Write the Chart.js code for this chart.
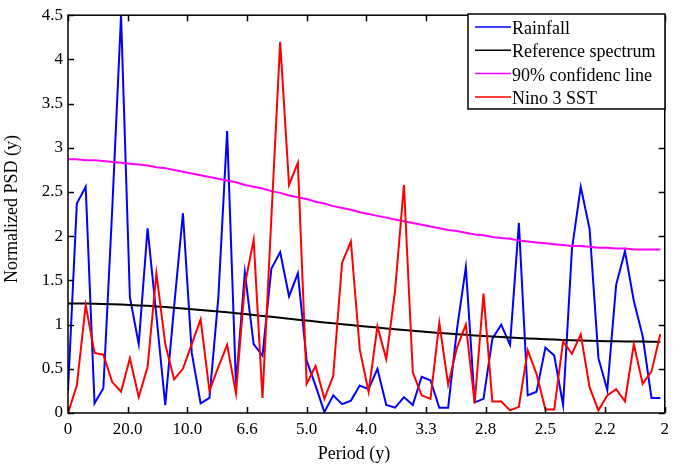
<!DOCTYPE html>
<html>
<head>
<meta charset="utf-8">
<script src="https://cdn.jsdelivr.net/npm/chart.js@4.4.1/dist/chart.umd.min.js"></script>
<style>
  html, body { margin: 0; padding: 0; background: #fff; }
  #wrap { width: 675px; height: 466px; position: relative; }
</style>
</head>
<body>
<div id="wrap"><canvas id="psdChart"></canvas></div>
<script>
// spectra sampled at f = k/135 cycles per year, k = 0..67
const periodLabels = ['0', '20.0', '10.0', '6.6', '5.0', '4.0', '3.3', '2.8', '2.5', '2.2', '2'];
const seriesNames = ['Rainfall', 'Reference spectrum', '90% confidenc line', 'Nino 3 SST'];

const rainfall = [0.25, 2.37, 2.56, 0.11, 0.28, 2.3, 4.5, 1.31, 0.78, 2.09,
    1.1, 0.09, 1.2, 2.26, 0.68, 0.11, 0.17, 1.3, 3.19, 0.32,
    1.59, 0.78, 0.65, 1.63, 1.82, 1.32, 1.58, 0.59, 0.31, 0.01,
    0.2, 0.1, 0.14, 0.31, 0.27, 0.5, 0.09, 0.06, 0.18, 0.09,
    0.41, 0.37, 0.06, 0.06, 0.95, 1.65, 0.12, 0.16, 0.84, 1.0,
    0.77, 2.15, 0.2, 0.24, 0.74, 0.65, 0.09, 1.85, 2.56, 2.08,
    0.62, 0.26, 1.45, 1.83, 1.27, 0.87, 0.17, 0.17];

const reference = [1.240, 1.239, 1.238, 1.236, 1.234, 1.231, 1.227, 1.222, 1.217, 1.212,
    1.205, 1.198, 1.191, 1.183, 1.175, 1.166, 1.157, 1.148, 1.139, 1.129,
    1.119, 1.109, 1.098, 1.088, 1.077, 1.067, 1.056, 1.046, 1.035, 1.025,
    1.015, 1.005, 0.995, 0.985, 0.975, 0.966, 0.956, 0.947, 0.938, 0.930,
    0.921, 0.913, 0.906, 0.898, 0.891, 0.884, 0.877, 0.871, 0.865, 0.859,
    0.853, 0.848, 0.843, 0.839, 0.835, 0.831, 0.827, 0.824, 0.821, 0.818,
    0.815, 0.813, 0.811, 0.810, 0.809, 0.808, 0.807, 0.807];

const confidence90 = [2.87, 2.87, 2.86, 2.86, 2.85, 2.84, 2.83, 2.82, 2.81, 2.80,
    2.78, 2.77, 2.75, 2.73, 2.71, 2.69, 2.67, 2.65, 2.63, 2.61,
    2.58, 2.56, 2.54, 2.51, 2.49, 2.46, 2.44, 2.42, 2.39, 2.37,
    2.34, 2.32, 2.30, 2.27, 2.25, 2.23, 2.21, 2.19, 2.17, 2.15,
    2.13, 2.11, 2.09, 2.07, 2.06, 2.04, 2.02, 2.01, 1.99, 1.98,
    1.97, 1.95, 1.94, 1.93, 1.92, 1.91, 1.90, 1.89, 1.89, 1.88,
    1.87, 1.87, 1.86, 1.86, 1.85, 1.85, 1.85, 1.85];

const nino3 = [0, 0.31, 1.22, 0.68, 0.66, 0.35, 0.24, 0.62, 0.18, 0.52,
    1.58, 0.78, 0.38, 0.5, 0.78, 1.06, 0.25, 0.52, 0.77, 0.22,
    1.45, 1.96, 0.17, 2.2, 4.2, 2.58, 2.83, 0.33, 0.53, 0.16,
    0.42, 1.7, 1.94, 0.72, 0.24, 0.98, 0.61, 1.39, 2.58, 0.46,
    0.2, 0.16, 1.02, 0.32, 0.74, 1.0, 0.11, 1.35, 0.13, 0.13,
    0.03, 0.07, 0.71, 0.44, 0.04, 0.04, 0.81, 0.67, 0.89, 0.29,
    0.03, 0.2, 0.27, 0.13, 0.78, 0.33, 0.47, 0.89];

const toPoints = arr => arr.map((v, k) => ({ x: k / 135, y: v }));

const serif = '"Liberation Serif", "Times New Roman", serif';

// box, inward ticks, axis titles and legend (MATLAB look)
const matlabFrame = {
    id: 'matlabFrame',
    afterDraw(chart) {
        const { ctx, chartArea: a, scales: { x, y } } = chart;
        ctx.save();
        ctx.strokeStyle = '#000';
        ctx.lineWidth = 1.5;
        ctx.strokeRect(a.left, a.top, a.right - a.left, a.bottom - a.top);

        ctx.beginPath();
        x.ticks.forEach(t => {
            const px = Math.round(x.getPixelForValue(t.value)) + 0.5;
            ctx.moveTo(px, a.bottom); ctx.lineTo(px, a.bottom - 6);
            ctx.moveTo(px, a.top); ctx.lineTo(px, a.top + 6);
        });
        y.ticks.forEach(t => {
            const py = Math.round(y.getPixelForValue(t.value)) + 0.5;
            ctx.moveTo(a.left, py); ctx.lineTo(a.left + 6, py);
            ctx.moveTo(a.right, py); ctx.lineTo(a.right - 6, py);
        });
        ctx.stroke();

        // axis titles
        ctx.fillStyle = '#000';
        ctx.font = '18px ' + serif;
        ctx.textAlign = 'center';
        ctx.textBaseline = 'alphabetic';
        ctx.fillText('Period (y)', 354, 459);
        ctx.save();
        ctx.translate(17, 209);
        ctx.rotate(-Math.PI / 2);
        ctx.fillText('Normalized PSD (y)', 0, 0);
        ctx.restore();

        // legend box
        const bx = 468, by = 14, bw = 197, bh = 95;
        ctx.fillStyle = '#fff';
        ctx.fillRect(bx, by, bw, bh);
        ctx.lineWidth = 1.5;
        ctx.strokeRect(bx, by, bw, bh);
        ctx.textAlign = 'left';
        chart.data.datasets.forEach((ds, i) => {
            const base = 34 + i * 23.3;
            ctx.strokeStyle = ds.borderColor;
            ctx.lineWidth = 1.5;
            ctx.beginPath();
            ctx.moveTo(bx + 7, base - 7);
            ctx.lineTo(bx + 43, base - 7);
            ctx.stroke();
            ctx.fillStyle = '#000';
            ctx.fillText(ds.label, bx + 44, base);
        });
        ctx.restore();
    }
};

const ctx = document.getElementById('psdChart').getContext('2d');
const psdChart = new Chart(ctx, {
    type: 'line',
    data: {
        datasets: [
            { label: seriesNames[0], data: toPoints(rainfall), borderColor: '#0000ff', order: 4 },
            { label: seriesNames[1], data: toPoints(reference), borderColor: '#000000', order: 3 },
            { label: seriesNames[2], data: toPoints(confidence90), borderColor: '#ff00ff', order: 2 },
            { label: seriesNames[3], data: toPoints(nino3), borderColor: '#ff0000', order: 1 }
        ]
    },
    options: {
        responsive: true,
        maintainAspectRatio: false,
        animation: false,
        layout: { padding: { top: 9, right: 8, left: 0, bottom: 0 } },
        elements: {
            line: { borderWidth: 2, tension: 0, fill: false },
            point: { radius: 0, hoverRadius: 0 }
        },
        scales: {
            x: {
                type: 'linear',
                min: 0,
                max: 0.5,
                grid: { display: false, drawTicks: false },
                border: { display: false },
                afterFit: s => { s.height = 53; },
                ticks: {
                    stepSize: 0.05,
                    autoSkip: false,
                    maxRotation: 0,
                    padding: 6,
                    color: '#000',
                    font: { family: serif, size: 17 },
                    callback: (v, i) => periodLabels[i]
                }
            },
            y: {
                min: 0,
                max: 4.5,
                grid: { display: false, drawTicks: false },
                border: { display: false },
                afterFit: s => { s.width = 68; },
                ticks: {
                    stepSize: 0.5,
                    padding: 5,
                    color: '#000',
                    font: { family: serif, size: 17 },
                    callback: v => String(Number(v.toFixed(1)))
                }
            }
        },
        plugins: {
            legend: { display: false },
            tooltip: { enabled: false }
        }
    },
    plugins: [matlabFrame]
});
</script>
</body>
</html>
